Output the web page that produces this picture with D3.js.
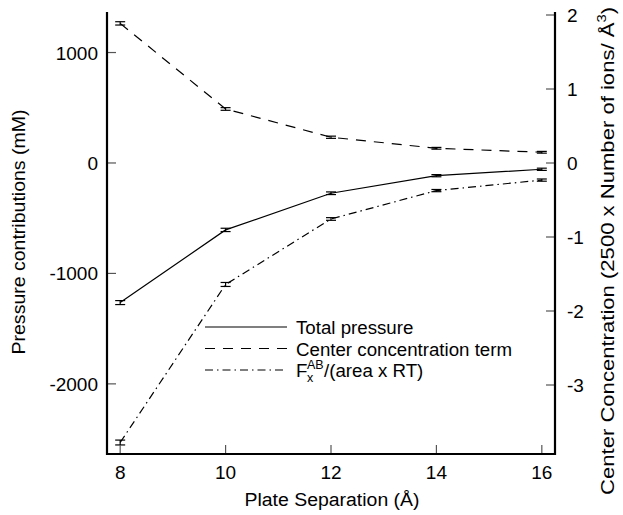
<!DOCTYPE html>
<html><head><meta charset="utf-8">
<script src="https://cdn.jsdelivr.net/npm/d3@7"></script>
<style>body{margin:0;background:#fff}svg{font-family:"Liberation Sans",Arial,sans-serif}</style>
</head><body><svg id="c" width="623" height="515"></svg>
<script>
const separations = [8, 10, 12, 14, 16];
const totalPressure = [-1264, -606, -274, -115, -57];
const totalErr = [18, 15, 12, 10, 10];
const centerTerm = [1264, 489, 233, 133, 97];
const centerErr = [15, 12, 10, 8, 8];
const forceTerm = [-2531, -1100, -507, -250, -155];
const forceErr = [22, 18, 12, 10, 10];
const xTicks = [8, 10, 12, 14, 16];
const yTicks = [-2000, -1000, 0, 1000];
const y2Ticks = [-3, -2, -1, 0, 1, 2];
const legendLabels = ["Total pressure", "Center concentration term", "/(area x RT)"];

const svg = d3.select("#c");
const L = 107, R = 555, T = 12, B = 454;
const x = d3.scaleLinear().domain([7.75, 16.25]).range([L, R]);
const y = d3.scaleLinear().domain([-2635, 1367]).range([B, T]);
const y2 = d3.scaleLinear().domain([(163 - B) / 74, (163 - T) / 74]).range([B, T]);

const series = [
  {v: totalPressure, e: totalErr, dash: null},
  {v: centerTerm, e: centerErr, dash: "10,8"},
  {v: forceTerm, e: forceErr, dash: "8,4,1.5,4"}
];

const line = d3.line().x((d, i) => x(separations[i])).y(d => y(d));
series.forEach(s => {
  svg.append("path").attr("d", line(s.v)).attr("fill", "none")
    .attr("stroke", "#000").attr("stroke-width", 1.2)
    .attr("stroke-dasharray", s.dash);
  const g = svg.append("g").attr("stroke", "#000").attr("stroke-width", 1.2);
  s.v.forEach((v, i) => {
    const cx = x(separations[i]);
    g.append("line").attr("x1", cx).attr("x2", cx).attr("y1", y(v - s.e[i])).attr("y2", y(v + s.e[i]));
    [v - s.e[i], v + s.e[i]].forEach(w => g.append("line").attr("x1", cx - 5).attr("x2", cx + 5).attr("y1", y(w)).attr("y2", y(w)));
  });
});

// axes
const tickLen = 9;
const ax = svg.append("g");
ax.selectAll(".xt").data(xTicks).enter().append("line")
  .attr("x1", d => x(d)).attr("x2", d => x(d)).attr("y1", B).attr("y2", B - tickLen)
  .attr("stroke", "#555").attr("stroke-width", 1.2);
ax.selectAll(".yt").data(yTicks).enter().append("line")
  .attr("x1", L).attr("x2", L + tickLen).attr("y1", d => y(d)).attr("y2", d => y(d))
  .attr("stroke", "#555").attr("stroke-width", 1.2);
ax.selectAll(".y2t").data(y2Ticks).enter().append("line")
  .attr("x1", R).attr("x2", R - tickLen).attr("y1", d => y2(d)).attr("y2", d => y2(d))
  .attr("stroke", "#555").attr("stroke-width", 1.2);
ax.append("path").attr("d", `M${L},${T}V${B}H${R}V${T}`).attr("fill", "none")
  .attr("stroke", "#000").attr("stroke-width", 2.2);

const fs = 19;
ax.selectAll(".xl").data(xTicks).enter().append("text")
  .attr("x", d => x(d)).attr("y", B + 25).attr("text-anchor", "middle")
  .attr("font-size", fs).text(d => d);
ax.selectAll(".yl").data(yTicks).enter().append("text")
  .attr("x", L - 9).attr("y", d => y(d) + 7).attr("text-anchor", "end")
  .attr("font-size", fs).text(d => d);
ax.selectAll(".y2l").data(y2Ticks).enter().append("text")
  .attr("x", R + 12).attr("y", d => y2(d) + 7).attr("text-anchor", "start")
  .attr("font-size", fs).text(d => d);

svg.append("text").attr("x", 332).attr("y", 506).attr("text-anchor", "middle")
  .attr("font-size", 18).attr("textLength", 175).attr("lengthAdjust", "spacingAndGlyphs")
  .text("Plate Separation (Å)");
svg.append("text").attr("transform", "translate(25,232) rotate(-90)").attr("text-anchor", "middle")
  .attr("font-size", 18).attr("textLength", 245).attr("lengthAdjust", "spacingAndGlyphs")
  .text("Pressure contributions (mM)");
const rt = svg.append("text").attr("transform", "translate(614,251) rotate(-90)").attr("text-anchor", "middle")
  .attr("font-size", 18).attr("textLength", 488).attr("lengthAdjust", "spacingAndGlyphs");
rt.append("tspan").text("Center Concentration (2500 x Number of ions/ Å");
rt.append("tspan").attr("font-size", 12).attr("dy", -8).text("3");
rt.append("tspan").attr("dy", 8).text(")");

// legend
const lg = svg.append("g");
const ly = [327, 348.5, 370];
series.forEach((s, i) => {
  lg.append("line").attr("x1", 205).attr("x2", 287).attr("y1", ly[i]).attr("y2", ly[i])
    .attr("stroke", "#000").attr("stroke-width", 1.2).attr("stroke-dasharray", s.dash);
});
const lfs = 18.7;
lg.append("text").attr("x", 296).attr("y", ly[0] + 7).attr("font-size", lfs).text(legendLabels[0]);
lg.append("text").attr("x", 296).attr("y", ly[1] + 7).attr("font-size", lfs).text(legendLabels[1]);
lg.append("text").attr("x", 296).attr("y", ly[2] + 7).attr("font-size", lfs).text("F");
lg.append("text").attr("x", 307).attr("y", ly[2] - 1).attr("font-size", 12.5).text("AB");
lg.append("text").attr("x", 307).attr("y", ly[2] + 12).attr("font-size", 12.5).text("x");
lg.append("text").attr("x", 324).attr("y", ly[2] + 7).attr("font-size", lfs).text(legendLabels[2]);
</script></body></html>
